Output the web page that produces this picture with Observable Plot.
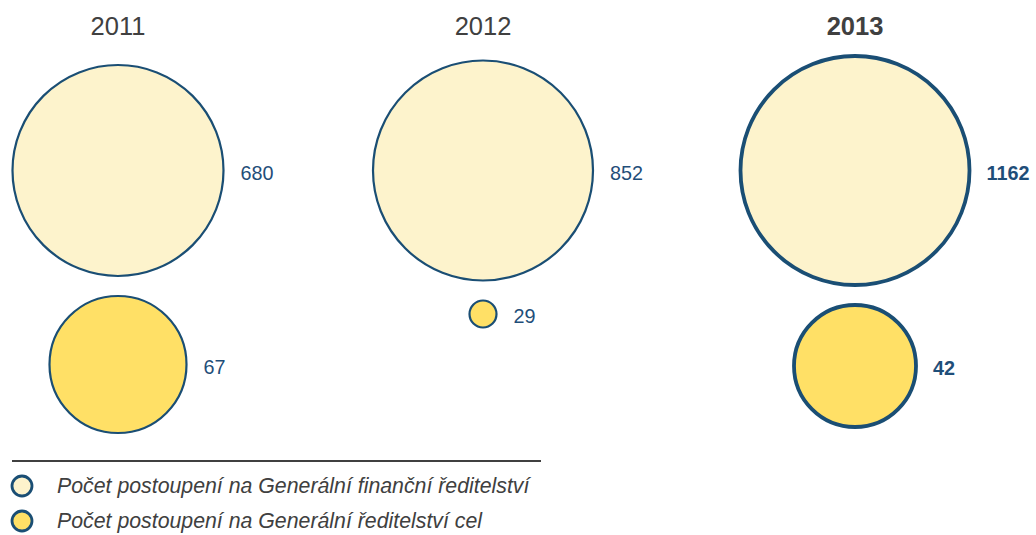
<!DOCTYPE html>
<html>
<head>
<meta charset="utf-8">
<script src="https://cdn.jsdelivr.net/npm/d3@7"></script>
<script src="https://cdn.jsdelivr.net/npm/@observablehq/plot@0.6"></script>
<style>
  body { margin: 0; background: #fff; font-family: "Liberation Sans", Arial, sans-serif; }
  #legend { position: relative; width: 1036px; height: 90px; }
  #legend .rule { position: absolute; left: 12px; top: 15px; width: 529px; height: 0; border-top: 2px solid #404040; }
  #legend .item { position: absolute; left: 10px; height: 24px; display: flex; align-items: center; }
  #legend .item span { margin-left: 23px; font-style: italic; font-size: 21.3px; color: #404040; white-space: nowrap; }
</style>
</head>
<body>
<div id="chart"></div>
<div id="legend"></div>
<script>
// ---- data ----
const years = [2011, 2012, 2013];
const gfrValues = [680, 852, 1162];   // Generální finanční ředitelství
const grcValues = [67, 29, 42];       // Generální ředitelství cel
const seriesNames = [
  "Počet postoupení na Generální finanční ředitelství",
  "Počet postoupení na Generální ředitelství cel"
];
const highlightYear = 2013;

// ---- styling / scale config ----
const lightFill = "#FDF3CC";
const darkFill = "#FFE066";
const strokeCol = "#1A4E74";
const labelCol = "#1F4E79";
const titleCol = "#404040";

const xOpts = {type: "linear", domain: years, range: [117.5, 482.5, 854.5]};
const allVals = [...gfrValues, ...grcValues].sort((a, b) => a - b);
// bubble radii in the reference are not area-proportional: piecewise-monotone radius scale
const rOpts = {type: "linear", domain: allVals, range: [13.5, 61, 68.5, 105.5, 110, 114.5]};
const xs = Plot.scale({x: xOpts});
const rs = Plot.scale({r: rOpts});

const bigCenter = 170, gap = 20;
const rows = [];
years.forEach((yr, i) => {
  rows.push({year: yr, series: seriesNames[0], value: gfrValues[i], big: gfrValues[i]});
  rows.push({year: yr, series: seriesNames[1], value: grcValues[i], big: gfrValues[i]});
});
const yPos = d => d.series === seriesNames[0]
  ? bigCenter
  : bigCenter + rs.apply(d.big) + gap + rs.apply(d.value);
const labelX = d => xs.invert(xs.apply(d.year) + rs.apply(d.value) + 17);

const isHi = d => d.year === highlightYear;
const notHi = d => d.year !== highlightYear;

const plot = Plot.plot({
  width: 1036,
  height: 445,
  margin: 0,
  x: {...xOpts, axis: null},
  y: {type: "identity", axis: null},
  r: rOpts,
  color: {domain: seriesNames, range: [lightFill, darkFill]},
  style: {fontFamily: "'Liberation Sans', Arial, sans-serif", background: "#fff"},
  marks: [
    Plot.dot(rows, {filter: notHi, x: "year", y: yPos, r: "value", fill: "series", stroke: strokeCol, strokeWidth: 2.2}),
    Plot.dot(rows, {filter: isHi, x: "year", y: yPos, r: "value", fill: "series", stroke: strokeCol, strokeWidth: 3.8}),
    Plot.text(rows, {filter: notHi, x: labelX, y: d => yPos(d) + 3, text: d => String(d.value), textAnchor: "start", fontSize: 19.8, fill: labelCol}),
    Plot.text(rows, {filter: isHi, x: labelX, y: d => yPos(d) + 3, text: d => String(d.value), textAnchor: "start", fontSize: 19.8, fontWeight: "bold", fill: labelCol}),
    Plot.text(years, {filter: d => d !== highlightYear, x: d => d, y: () => 26, text: d => String(d), fontSize: 25.5, fill: titleCol}),
    Plot.text(years, {filter: d => d === highlightYear, x: d => d, y: () => 26, text: d => String(d), fontSize: 25.5, fontWeight: "bold", fill: titleCol})
  ]
});
document.getElementById("chart").appendChild(plot);

// ---- legend ----
const legend = d3.select("#legend");
legend.append("div").attr("class", "rule");
seriesNames.forEach((name, i) => {
  const item = legend.append("div").attr("class", "item").style("top", (29 + i * 35) + "px");
  const svg = item.append("svg").attr("width", 24).attr("height", 24);
  svg.append("circle").attr("cx", 12).attr("cy", 12).attr("r", 10)
    .attr("fill", [lightFill, darkFill][i]).attr("stroke", strokeCol).attr("stroke-width", 2.8);
  item.append("span").text(name);
});
</script>
</body>
</html>
